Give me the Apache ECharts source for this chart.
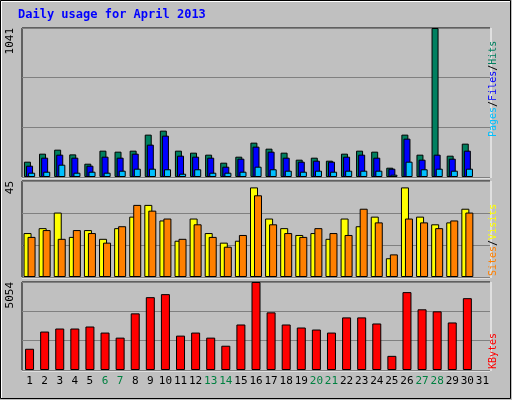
<!DOCTYPE html><html><head><meta charset="utf-8"><script src="https://cdn.jsdelivr.net/npm/echarts@6/dist/echarts.min.js"></script>
<style>body{margin:0;background:#fff}#c{width:512px;height:400px}</style></head><body><div id="c"></div><script>
const days=[];for(let i=1;i<=31;i++)days.push(String(i));
const weekend=['6','7','13','14','20','21','27','28'];
const hits=[107,163,191,158,93,184,177,184,296,324,184,170,156,100,142,240,198,170,121,135,114,163,184,177,65,296,156,1041,149,233,null];
const files=[79,135,156,135,79,142,135,163,226,289,149,142,135,72,128,212,177,135,107,114,107,142,156,135,58,268,121,156,128,184,null];
const pages=[30,37,86,30,37,30,44,58,58,54,23,54,30,30,37,72,54,44,37,44,37,44,44,44,16,107,54,58,44,58,null];
const visits=[20.6,22.9,30.2,18.8,22,17.9,22.9,28.3,33.8,26.5,17,27.4,20.6,16.1,17,42,27.4,22.9,19.7,20.6,17.9,27.4,23.8,28.3,8.8,42,28.3,24.7,25.6,32,null];
const sites=[18.8,22,17.9,22,20.6,16.1,23.8,33.8,31.1,27.4,17.9,24.7,18.8,14.2,19.7,38.3,24.7,20.6,18.8,22.9,20.6,19.7,32,25.6,10.6,27.4,25.6,22.9,26.5,30.2,null];
const kbytes=[1220,2208,2382,2382,2498,2150,1859,3253,4183,4357,1975,2150,1859,1394,2614,5054,3311,2614,2440,2324,2150,3021,3021,2672,813,4473,3486,3369,2730,4125,null];
const maxes=[1041,45,5054];
const grids=[{left:22,top:28,width:468,height:149},{left:22,top:181,width:468,height:96},{left:22,top:282,width:468,height:88}];
const bs={borderColor:'#000',borderWidth:1};
const yA=(i,m)=>({gridIndex:i,type:'value',min:0,max:m,interval:m/3,axisLine:{show:false},axisTick:{show:false},
 splitLine:{lineStyle:{color:'#808080',width:1}},
 axisLabel:{rotate:90,fontFamily:'DejaVu Sans Mono',fontSize:11,color:'#000',margin:6,formatter:v=>v===m?String(m):'',verticalAlign:'bottom',align:'right'}});
const xA=(i,show)=>({gridIndex:i,type:'category',data:days,axisLine:{show:false},axisTick:{show:false},
 axisLabel:{show:show,interval:0,fontFamily:'DejaVu Sans Mono',fontSize:11,margin:6,formatter:v=>weekend.includes(v)?'{w|'+v+'}':v,color:'#000',rich:{w:{color:'#008040',fontFamily:'DejaVu Sans Mono',fontSize:11}}}});
const frame=(g)=>[{type:'line',shape:{x1:g.left,y1:g.top,x2:g.left+g.width,y2:g.top},style:{stroke:'#000',lineWidth:1}},
 {type:'line',shape:{x1:g.left,y1:g.top,x2:g.left,y2:g.top+g.height},style:{stroke:'#000',lineWidth:1}},
 {type:'line',shape:{x1:g.left,y1:g.top+g.height+1,x2:g.left+g.width,y2:g.top+g.height+1},style:{stroke:'#fff',lineWidth:1}},
 {type:'line',shape:{x1:g.left+g.width+1,y1:g.top,x2:g.left+g.width+1,y2:g.top+g.height+1},style:{stroke:'#fff',lineWidth:1}}];
const vt=(parts,x,yBottom)=>{const out=[];let y=yBottom;parts.forEach(p=>{out.push({type:'text',x:x,y:y,rotation:Math.PI/2,style:{text:p[0],fill:p[1],font:'10px DejaVu Sans Mono',textAlign:'left',textVerticalAlign:'middle'}});y-=p[0].length*6.02;});return out;};
const chart=echarts.init(document.getElementById('c'));
chart.setOption({backgroundColor:'#C0C0C0',animation:false,
 grid:grids,
 xAxis:[xA(0,false),xA(1,false),xA(2,true)],
 yAxis:[yA(0,maxes[0]),yA(1,maxes[1]),yA(2,maxes[2])],
 series:[
 {type:'bar',xAxisIndex:0,yAxisIndex:0,data:hits,barWidth:7,barGap:'-70%',itemStyle:Object.assign({color:'#008060'},bs)},
 {type:'bar',xAxisIndex:0,yAxisIndex:0,data:files,barWidth:7,barGap:'-70%',itemStyle:Object.assign({color:'#0000FF'},bs)},
 {type:'bar',xAxisIndex:0,yAxisIndex:0,data:pages,barWidth:7,barGap:'-70%',itemStyle:Object.assign({color:'#00C0FF'},bs)},
 {type:'bar',xAxisIndex:1,yAxisIndex:1,data:visits,barWidth:8,barGap:'-50%',itemStyle:Object.assign({color:'#FFFF00'},bs)},
 {type:'bar',xAxisIndex:1,yAxisIndex:1,data:sites,barWidth:8,barGap:'-50%',itemStyle:Object.assign({color:'#FF8000'},bs)},
 {type:'bar',xAxisIndex:2,yAxisIndex:2,data:kbytes,barWidth:9,itemStyle:Object.assign({color:'#FF0000'},bs)}],
 graphic:[
 {type:'rect',shape:{x:0.5,y:0.5,width:510,height:398},style:{fill:'none',stroke:'#000',lineWidth:1}},
 {type:'line',shape:{x1:1,y1:1.5,x2:510,y2:1.5},style:{stroke:'#fff'}},
 {type:'line',shape:{x1:1.5,y1:1,x2:1.5,y2:398},style:{stroke:'#fff'}},
 {type:'text',x:18,y:9,style:{text:'Daily usage for April 2013',fill:'#0000FF',font:'bold 12px DejaVu Sans Mono'}},
 ...frame(grids[0]),...frame(grids[1]),...frame(grids[2]),
 ...vt([['Pages','#00C0FF'],['/','#000'],['Files','#0000FF'],['/','#000'],['Hits','#008060']],493,137),
 ...vt([['Sites','#FF8000'],['/','#000'],['Visits','#FFFF00']],493,276),
 ...vt([['KBytes','#FF0000']],493,369)
 ]});
</script></body></html>
